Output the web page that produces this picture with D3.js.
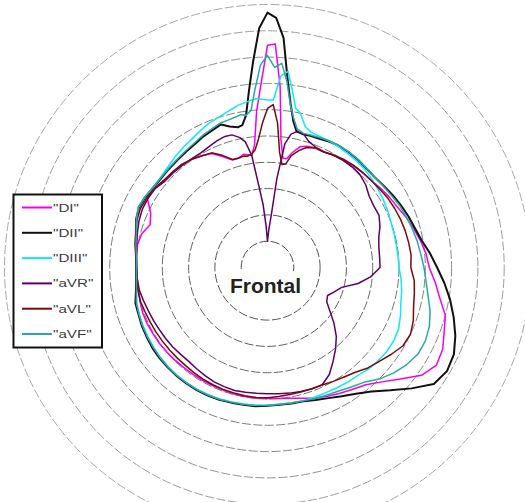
<!DOCTYPE html>
<html>
<head>
<meta charset="utf-8">
<script src="https://cdnjs.cloudflare.com/ajax/libs/d3/7.8.5/d3.min.js"></script>
<style>
  html, body { margin: 0; padding: 0; background: #fff; }
  svg { display: block; }
</style>
</head>
<body>
<div id="chart"></div>
<script>
// Frontal-plane loops: radius per lead, sampled at a shared set of angles
// (degrees, 0 = top, clockwise).
const angles = [0, 2, 4, 6, 8, 10, 12, 15, 18, 22, 26, 30, 35, 40, 45, 50, 55, 60, 65, 70,
  75, 80, 85, 90, 95, 100, 105, 110, 115, 120, 125, 130, 135, 140, 145, 150, 155, 160, 165, 170,
  175, 180, 185, 190, 195, 200, 205, 210, 215, 220, 225, 230, 235, 240, 245, 250, 255, 260, 265, 270,
  275, 280, 285, 290, 295, 300, 305, 310, 315, 320, 325, 330, 334, 338, 342, 345, 348, 350, 352, 354,
  356, 358];

const leadDI = [8.45, 8.5, 6.9, 4.9, 4.2, 4.2, 4.45, 4.75, 4.85, 4.9, 4.88, 4.95, 5.0, 5.05, 5.1, 5.15, 5.25, 5.35, 5.45, 5.6,
  5.75, 5.9, 6.05, 6.15, 6.4, 6.65, 7.0, 7.15, 7.35, 7.42, 7.15, 6.6, 6.15, 5.82, 5.65, 5.52, 5.4, 5.28, 5.15, 5.05,
  5.0, 4.98, 4.98, 4.98, 4.97, 4.96, 4.95, 4.95, 4.95, 4.96, 4.98, 5.0, 5.02, 5.03, 5.05, 5.05, 5.02, 4.98, 4.97, 4.98,
  5.0, 5.02, 4.95, 4.75, 4.9, 5.28, 5.25, 5.15, 5.12, 5.1, 5.02, 4.92, 4.82, 4.55, 4.3, 4.3, 4.4, 4.35, 4.3, 4.7,
  5.95, 7.0];

const leadDII = [9.69, 9.5, 8.75, 7.25, 6.3, 5.65, 5.3, 5.24, 5.27, 5.28, 5.33, 5.36, 5.36, 5.35, 5.32, 5.33, 5.4, 5.5, 5.6, 5.7,
  5.8, 5.95, 6.2, 6.45, 6.75, 7.05, 7.33, 7.6, 7.82, 7.88, 7.72, 7.15, 6.6, 6.15, 5.86, 5.65, 5.48, 5.36, 5.27, 5.25,
  5.24, 5.26, 5.3, 5.3, 5.32, 5.35, 5.37, 5.38, 5.38, 5.38, 5.37, 5.36, 5.34, 5.3, 5.27, 5.22, 5.2, 5.08, 5.02, 5.0,
  5.02, 5.1, 5.18, 5.32, 5.4, 5.36, 5.3, 5.28, 5.3, 5.33, 5.38, 5.45, 5.55, 5.62, 5.72, 5.55, 5.45, 5.5, 5.85, 6.75,
  7.85, 9.1];

const leadDIII = [6.37, 6.37, 7.3, 7.5, 6.8, 6.15, 6.0, 5.55, 5.4, 5.36, 5.35, 5.33, 5.3, 5.28, 5.25, 5.2, 5.15, 5.1, 5.05, 5.0,
  4.98, 4.97, 4.98, 5.0, 5.1, 5.18, 5.25, 5.38, 5.5, 5.55, 5.55, 5.5, 5.45, 5.35, 5.32, 5.28, 5.25, 5.25, 5.24, 5.22,
  5.22, 5.24, 5.26, 5.27, 5.29, 5.32, 5.34, 5.35, 5.35, 5.35, 5.34, 5.32, 5.29, 5.26, 5.23, 5.19, 5.15, 5.05, 5.0, 4.98,
  5.0, 5.08, 5.16, 5.3, 5.42, 5.38, 5.3, 5.32, 5.38, 5.48, 5.58, 5.68, 5.8, 5.92, 6.0, 6.1, 6.2, 6.28, 6.32, 6.38,
  6.43, 6.4];

const leadAVR = [1.0, 1.45, 1.95, 3.4, 4.75, 5.15, 5.27, 5.27, 5.05, 4.92, 4.9, 4.95, 4.98, 5.0, 4.98, 4.88, 4.72, 4.67, 4.68, 4.55,
  4.38, 4.3, 4.28, 4.28, 3.95, 3.5, 2.92, 2.7, 2.52, 2.6, 2.9, 3.3, 3.7, 4.03, 4.35, 4.7, 4.92, 4.92, 4.88, 4.85,
  4.82, 4.8, 4.8, 4.82, 4.84, 4.82, 4.8, 4.75, 4.7, 4.66, 4.67, 4.7, 4.72, 4.74, 4.78, 4.82, 4.88, 4.95, 4.97, 4.97,
  5.0, 5.05, 5.12, 5.2, 5.25, 5.25, 5.22, 5.1, 5.08, 5.06, 5.04, 5.04, 5.1, 5.18, 5.24, 5.22, 5.05, 4.85, 4.3, 3.1,
  2.4, 1.6];

const leadAVL = [6.05, 6.2, 5.5, 4.4, 3.95, 4.0, 4.35, 4.6, 4.8, 4.9, 4.88, 4.95, 5.03, 5.08, 5.12, 5.15, 5.2, 5.28, 5.33, 5.38,
  5.42, 5.45, 5.48, 5.45, 5.6, 5.67, 5.75, 5.9, 6.0, 5.95, 5.75, 5.55, 5.4, 5.2, 5.08, 5.0, 4.93, 4.9, 4.9, 4.9,
  4.92, 4.95, 4.96, 4.95, 4.94, 4.93, 4.92, 4.9, 4.88, 4.86, 4.86, 4.87, 4.88, 4.9, 4.92, 4.95, 5.0, 5.0, 4.98, 4.98,
  5.02, 5.1, 5.18, 5.28, 5.33, 5.29, 5.25, 5.15, 5.12, 5.1, 5.02, 4.92, 4.85, 4.6, 4.32, 4.3, 4.33, 4.3, 4.35, 4.5,
  4.9, 5.5];

const leadAVF = [8.07, 7.62, 7.78, 7.1, 6.25, 5.75, 5.4, 5.28, 5.3, 5.32, 5.36, 5.38, 5.38, 5.36, 5.33, 5.33, 5.38, 5.45, 5.55, 5.62,
  5.7, 5.78, 5.85, 5.95, 6.05, 6.2, 6.4, 6.55, 6.62, 6.6, 6.45, 6.25, 6.0, 5.7, 5.55, 5.42, 5.35, 5.3, 5.25, 5.23,
  5.22, 5.24, 5.27, 5.28, 5.3, 5.33, 5.35, 5.36, 5.36, 5.36, 5.35, 5.33, 5.3, 5.27, 5.24, 5.2, 5.16, 5.06, 5.0, 4.98,
  5.0, 5.08, 5.16, 5.3, 5.42, 5.38, 5.32, 5.3, 5.32, 5.36, 5.42, 5.5, 5.6, 5.68, 5.78, 5.8, 5.85, 5.9, 5.85, 6.0,
  6.8, 7.7];

const leadNames = ['"DI"', '"DII"', '"DIII"', '"aVR"', '"aVL"', '"aVF"'];
const leadColors = ["#f000f0", "#111111", "#10e8f4", "#5e0064", "#7a0a0a", "#2aa8a8"];
const leadWidths = [1.5, 2, 1.5, 1.5, 1.5, 1.5];
const leadValues = [leadDI, leadDII, leadDIII, leadAVR, leadAVL, leadAVF];

const ringLevels = [1, 2, 3, 4, 5, 6, 7, 8, 9, 10];
const centreLabel = "Frontal";

const width = 525, height = 502;
const cx = 267.5, cy = 267.5;

const svg = d3.select("#chart").append("svg")
  .attr("width", width).attr("height", height)
  .style("font-family", "'Liberation Sans', Arial, sans-serif");

const r = d3.scaleLinear().domain([0, 10]).range([0, 263]);
const ringShade = d3.scaleLinear().domain([1, 10]).range(["#4a4a4a", "#a8a8a8"]);

const plot = svg.append("g").attr("transform", `translate(${cx},${cy})`);

// concentric grid rings
plot.append("g").selectAll("circle")
  .data(ringLevels)
  .join("circle")
  .attr("r", d => r(d))
  .attr("fill", "none")
  .attr("stroke", d => ringShade(d))
  .attr("stroke-width", 1)
  .attr("stroke-dasharray", "9 2.5");

// loops
const radial = d3.lineRadial()
  .angle(d => d[0] * Math.PI / 180)
  .radius(d => r(d[1]))
  .curve(d3.curveLinearClosed);

plot.append("g").selectAll("path")
  .data(leadValues.map((vals, i) => ({ i, pts: angles.map((a, k) => [a, vals[k]]) })))
  .join("path")
  .attr("d", d => radial(d.pts))
  .attr("fill", "none")
  .attr("stroke", d => leadColors[d.i])
  .attr("stroke-width", d => leadWidths[d.i])
  .attr("stroke-linejoin", "round");

// centre label on a white plate
plot.append("rect")
  .attr("x", -40).attr("y", 3.5)
  .attr("width", 80).attr("height", 27)
  .attr("fill", "#fff");

plot.append("text")
  .attr("x", -2).attr("y", 25.5)
  .attr("text-anchor", "middle")
  .attr("font-size", 21)
  .attr("font-weight", "bold")
  .attr("fill", "#222")
  .text(centreLabel);

// legend
const legend = svg.append("g").attr("transform", "translate(13.5,194.5)");
legend.append("rect")
  .attr("width", 88.5).attr("height", 153)
  .attr("fill", "#fff")
  .attr("stroke", "#111")
  .attr("stroke-width", 2);

const rows = legend.selectAll("g.row")
  .data(leadNames)
  .join("g")
  .attr("class", "row")
  .attr("transform", (d, i) => `translate(0,${13 + i * 25.3})`);

rows.append("line")
  .attr("x1", 8.5).attr("x2", 38.5)
  .attr("stroke", (d, i) => leadColors[i])
  .attr("stroke-width", 2);

rows.append("text")
  .attr("transform", "translate(39.5,4) scale(1.38,1)")
  .attr("font-size", 11)
  .attr("fill", "#3a3a3a")
  .text(d => d);
</script>
</body>
</html>
